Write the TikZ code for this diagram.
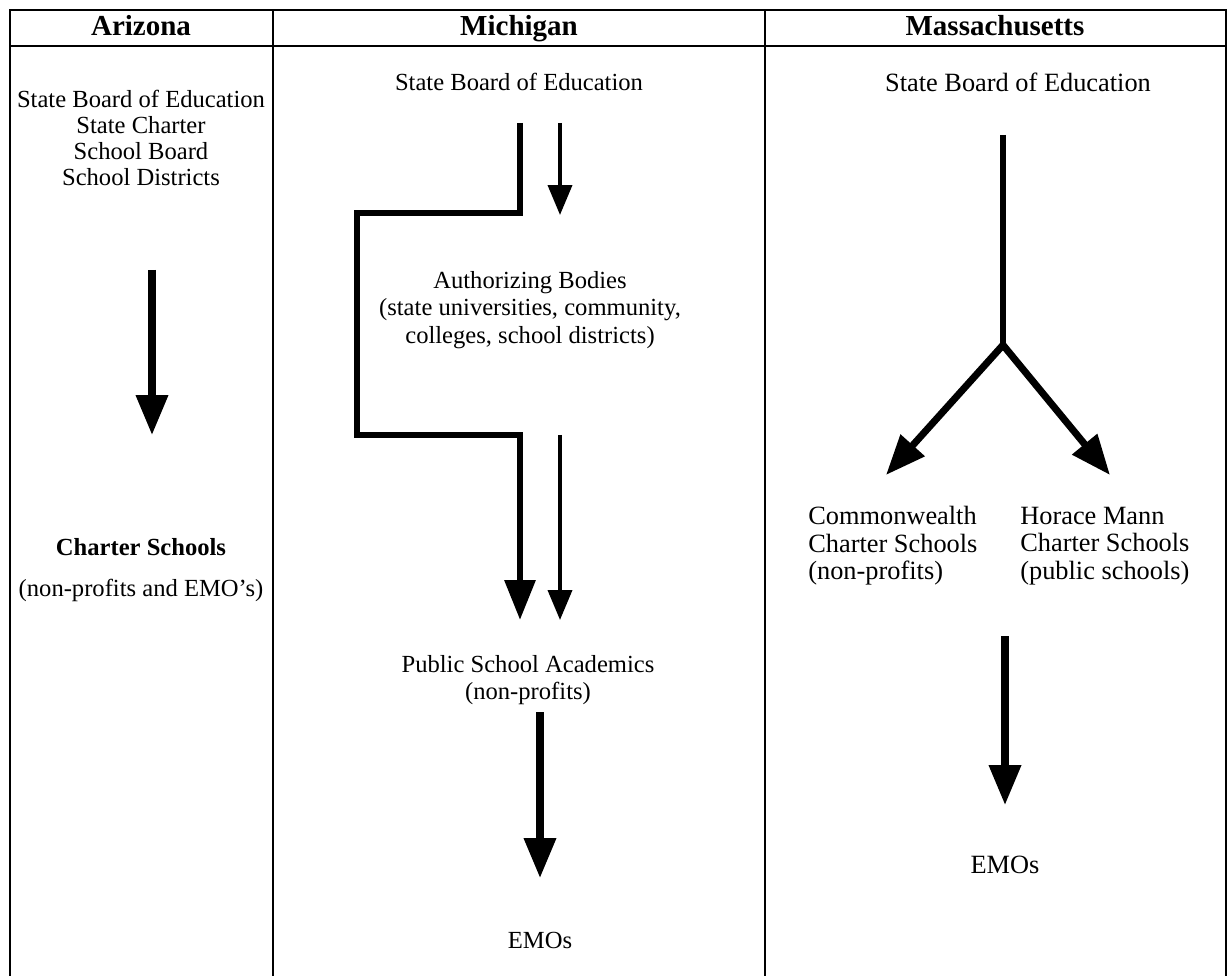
\documentclass[tikz,border=0pt]{standalone}
\usepackage{fontspec}
\setmainfont{Liberation Serif}
\usetikzlibrary{arrows.meta,positioning}

\begin{document}
\begin{tikzpicture}[x=0.02cm, y=-0.02cm,
    rule/.style={line width=0.8pt},
    head/.style={font=\fontsize{16.5}{20}\selectfont\bfseries, inner sep=0pt, anchor=base},
    body/.style={font=\fontsize{14}{15.8}\selectfont, align=center, inner sep=0pt},
    azbody/.style={font=\fontsize{14}{14.8}\selectfont, align=center, inner sep=0pt},
    mabody/.style={font=\fontsize{15}{15.6}\selectfont, align=left, inner sep=0pt},
    bigarrow/.style={line width=4pt, -{Triangle[length=0.8cm, width=0.62cm]}},
    thinarrow/.style={line width=2.2pt, -{Triangle[length=0.6cm, width=0.48cm]}},
    thickline/.style={line width=3.6pt, line join=miter}]

    \useasboundingbox (0,0) rectangle (1228,976);

    % Table
    \draw[rule] (10,976) -- (10,10) -- (1226,10) -- (1226,976);
    \draw[rule] (10,46) -- (1226,46);
    \draw[rule] (273,10) -- (273,976);
    \draw[rule] (765,10) -- (765,976);

    % Headers
    \node[head] (azhead) at (141,36) {Arizona};
    \node[head] (mihead) at (519,36) {Michigan};
    \node[head] (mahead) at (995,36) {Massachusetts};

    % Arizona
    \node[azbody] (azsrc) at (141,138) {State Board of Education\\State Charter\\School Board\\School Districts};
    \node[azbody, font=\fontsize{14}{14.8}\selectfont\bfseries] (azdst) at (141,547) {Charter Schools};
    \node[azbody] (aznote) at (141,590) {(non-profits and EMO's)};
    \coordinate (aztop) at (152,270);
    \coordinate (azend) at (152,435);
    \draw[bigarrow] (aztop) -- (azend);

    % Michigan
    \node[body] (misrc) at (519,82) {State Board of Education};
    \node[body] (miauth) at (530,310) {Authorizing Bodies\\(state universities, community,\\colleges, school districts)};
    \node[body] (mipsa) at (528,680) {Public School Academics\\(non-profits)};
    \node[body] (miemo) at (540,940) {EMOs};
    \coordinate (mia) at (520,123);
    \coordinate (mib) at (520,213);
    \coordinate (mic) at (357,213);
    \coordinate (mid) at (357,435);
    \coordinate (mie) at (520,435);
    \coordinate (mif) at (520,620);
    \coordinate (mig) at (560,123);
    \coordinate (mih) at (560,215);
    \coordinate (mii) at (560,435);
    \coordinate (mij) at (560,620);
    \coordinate (mik) at (540,712);
    \coordinate (mil) at (540,878);
    \draw[thickline, -{Triangle[length=0.8cm, width=0.6cm]}] (mia) -- (mib) -- (mic) -- (mid) -- (mie) -- (mif);
    \draw[thinarrow] (mig) -- (mih);
    \draw[thinarrow] (mii) -- (mij);
    \draw[bigarrow] (mik) -- (mil);

    % Massachusetts
    \node[body, font=\fontsize{15}{15.6}\selectfont] (masrc) at (1018,82) {State Board of Education};
    \node[mabody, anchor=west] (macw) at (808,546) {Commonwealth\\Charter Schools\\(non-profits)};
    \node[mabody, anchor=west] (mahm) at (1020,546) {Horace Mann\\Charter Schools\\(public schools)};
    \node[body, font=\fontsize{15}{15.6}\selectfont] (maemo) at (1005,865) {EMOs};
    \coordinate (matop) at (1003,135);
    \coordinate (masplit) at (1003,345);
    \coordinate (maleft) at (886,475);
    \coordinate (maright) at (1110,475);
    \coordinate (mabtop) at (1005,636);
    \coordinate (mabend) at (1005,805);
    \draw[thickline] (matop) -- (masplit);
    \draw[bigarrow] (masplit) -- (maleft);
    \draw[bigarrow] (masplit) -- (maright);
    \draw[bigarrow] (mabtop) -- (mabend);
\end{tikzpicture}
\end{document}
